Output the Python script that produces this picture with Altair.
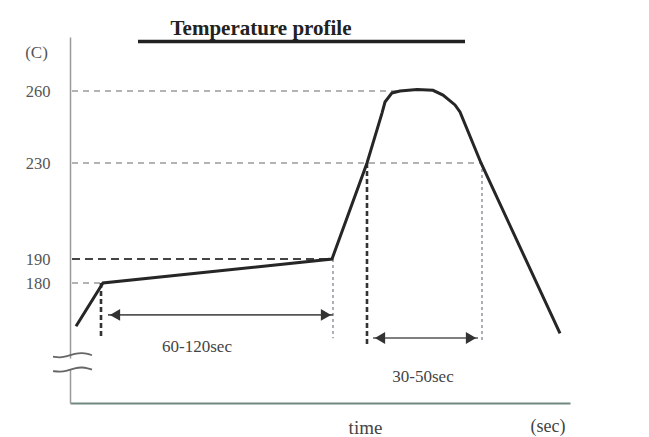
import altair as alt
import pandas as pd

# Profile curve (time units ~ arbitrary seconds, temperature in C)
curve_t = [6, 33, 262, 297, 312, 315, 322, 330, 347, 363, 373, 385, 390, 411, 490]
curve_v = [162, 180, 190, 230, 250.8, 255.4, 259.2, 260, 260.6, 260.3, 258.3, 254.2, 251.3, 230, 159]

# Reference levels
h_levels = [260, 230, 190, 180]
h_end_t = [335, 411, 262, 33]
h_style = ["thin", "thin", "thick", "thin"]

# Vertical markers
v_t = [31, 263, 297, 412]
v_top = [180, 190, 230, 230]
v_bottom = [157.5, 157, 153.5, 156.3]
v_style = ["thick", "thin", "thick", "thin"]

# Duration arrows
arrow_t1 = [38, 303]
arrow_t2 = [263, 408]
arrow_v = [166.7, 157.1]
arrow_labels = ["60-120sec", "30-50sec"]
label_t = [127, 353]
label_v = [153.3, 140.8]

y_ticks = [180, 190, 230, 260]

serif = "Liberation Serif"

xs = alt.Scale(domain=[0, 500], nice=False, zero=False)
ys = alt.Scale(domain=[130, 282.5], nice=False, zero=False)

curve_df = pd.DataFrame({"t": curve_t, "v": curve_v})
base = alt.Chart(curve_df).mark_line(color="#262626", strokeWidth=3).encode(
    x=alt.X("t:Q", scale=xs, axis=alt.Axis(labels=False, ticks=False, grid=False,
                                            domainColor="#6f8880", domainWidth=2,
                                            title="time", titleX=295, titleY=24,
                                            titleAlign="center", titleBaseline="middle",
                                            titleFont=serif, titleFontSize=19,
                                            titleFontWeight="normal", titleColor="#444")),
    y=alt.Y("v:Q", scale=ys, axis=alt.Axis(values=y_ticks, ticks=False, grid=False,
                                            domainColor="#9a9a9a", domainWidth=1.5,
                                            labelFont=serif, labelFontSize=16.5, labelColor="#555",
                                            labelPadding=20,
                                            title="(C)", titleAngle=0, titleX=-34, titleY=15,
                                            titleAlign="center", titleBaseline="middle",
                                            titleFont=serif, titleFontSize=17,
                                            titleFontWeight="normal", titleColor="#555")),
)

h_df = pd.DataFrame({"v": h_levels, "t0": [2] * 4, "t1": h_end_t, "s": h_style})
h_thin = alt.Chart(h_df[h_df.s == "thin"]).mark_rule(color="#9a9a9a", strokeWidth=1.3, strokeDash=[6, 5]).encode(
    x=alt.X("t0:Q", scale=xs), x2="t1:Q", y=alt.Y("v:Q", scale=ys))
h_thick = alt.Chart(h_df[h_df.s == "thick"]).mark_rule(color="#444", strokeWidth=2, strokeDash=[8, 5]).encode(
    x=alt.X("t0:Q", scale=xs), x2="t1:Q", y=alt.Y("v:Q", scale=ys))

v_df = pd.DataFrame({"t": v_t, "v0": v_top, "v1": v_bottom, "s": v_style})
v_thin = alt.Chart(v_df[v_df.s == "thin"]).mark_rule(color="#9a9aaa", strokeWidth=1.6, strokeDash=[3, 3]).encode(
    x=alt.X("t:Q", scale=xs), y=alt.Y("v0:Q", scale=ys), y2="v1:Q")
v_thick = alt.Chart(v_df[v_df.s == "thick"]).mark_rule(color="#333", strokeWidth=2.6, strokeDash=[5, 3]).encode(
    x=alt.X("t:Q", scale=xs), y=alt.Y("v0:Q", scale=ys), y2="v1:Q")

a_df = pd.DataFrame({"t1": arrow_t1, "t2": arrow_t2, "v": arrow_v})
shaft = alt.Chart(a_df).mark_rule(color="#555", strokeWidth=1.6).encode(
    x=alt.X("t1:Q", scale=xs), x2="t2:Q", y=alt.Y("v:Q", scale=ys))
head_l = alt.Chart(a_df).mark_point(shape="triangle-left", filled=True, color="#333", size=140, opacity=1).encode(
    x=alt.X("t1:Q", scale=xs), y=alt.Y("v:Q", scale=ys), xOffset=alt.value(7))
head_r = alt.Chart(a_df).mark_point(shape="triangle-right", filled=True, color="#333", size=140, opacity=1).encode(
    x=alt.X("t2:Q", scale=xs), y=alt.Y("v:Q", scale=ys), xOffset=alt.value(-7))

l_df = pd.DataFrame({"t": label_t, "v": label_v, "txt": arrow_labels})
labels = alt.Chart(l_df).mark_text(font=serif, fontSize=17, color="#444").encode(
    x=alt.X("t:Q", scale=xs), y=alt.Y("v:Q", scale=ys), text="txt:N")

# axis break marks
brk_t = [-17, -10, -3, 5, 12, 18, 22]
brk_dv = [0, -0.4, 0.1, 1.3, 1.6, 1.2, 0.6]
brk_rows = []
for k, b in enumerate([149.3, 143.3]):
    for tt, dv in zip(brk_t, brk_dv):
        brk_rows.append({"t": tt, "v": b + dv, "k": k})
brk_df = pd.DataFrame(brk_rows)
gap = alt.Chart(pd.DataFrame({"t": [0], "v0": [148.5], "v1": [143.8]})).mark_rule(color="white", strokeWidth=5).encode(
    x=alt.X("t:Q", scale=xs), y=alt.Y("v0:Q", scale=ys), y2="v1:Q")
brk = alt.Chart(brk_df).mark_line(color="#666", strokeWidth=1.8, interpolate="basis").encode(
    x=alt.X("t:Q", scale=xs), y=alt.Y("v:Q", scale=ys), detail="k:N")

# title and underline bar
title_df = pd.DataFrame({"t": [191], "v": [283.3], "txt": ["Temperature profile"]})
title = alt.Chart(title_df).mark_text(font=serif, fontSize=21, fontWeight="bold", color="#222",
                                      baseline="alphabetic").encode(
    x=alt.X("t:Q", scale=xs), y=alt.Y("v:Q", scale=ys), text="txt:N")
bar = alt.Chart(pd.DataFrame({"t0": [68], "t1": [395], "v": [280.6]})).mark_rule(color="#222", strokeWidth=3.6).encode(
    x=alt.X("t0:Q", scale=xs), x2="t1:Q", y=alt.Y("v:Q", scale=ys))

sec_df = pd.DataFrame({"t": [478], "v": [120], "txt": ["(sec)"]})
sec = alt.Chart(sec_df).mark_text(font=serif, fontSize=18, color="#444").encode(
    x=alt.X("t:Q", scale=xs), y=alt.Y("v:Q", scale=ys), text="txt:N")

chart = alt.layer(
    h_thin, h_thick, v_thin, v_thick, base, shaft, head_l, head_r, labels,
    gap, brk, title, bar, sec
).properties(
    width=500, height=366,
    autosize=alt.AutoSizeParams(type="none"),
    padding={"left": 62, "top": 29, "right": 60, "bottom": 40},
    background="white",
).configure_view(stroke=None)

chart.save("out.html", embed_options={"renderer": "svg", "actions": False})
